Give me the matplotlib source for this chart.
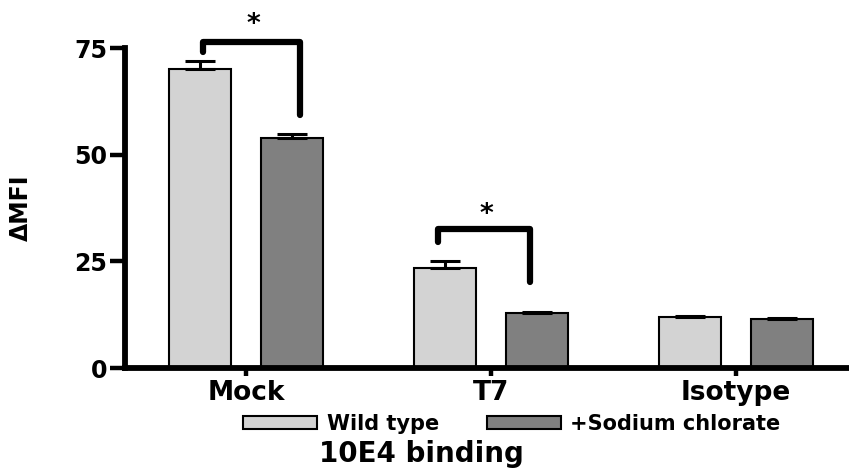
import numpy as np
import matplotlib
matplotlib.use('Agg')
from matplotlib import pyplot as plt
from matplotlib.patches import Patch

# Datos
groups = ['Mock', 'T7', 'Isotype']
series = ['Wild type', '+Sodium chlorate']
wild_type = [70.0, 23.5, 11.9]
wild_type_err = [1.9, 1.6, 0.2]
chlorate = [53.9, 12.8, 11.6]
chlorate_err = [0.9, 0.4, 0.2]

# Corchetes de significancia: (x izq, x der, altura, pata izq, pata der, x asterisco, y asterisco)
brackets = [(-0.176, 0.220, 76.3, 74.0, 59.3, 0.029, 80.3),
            (0.784, 1.159, 32.6, 29.5, 20.1, 0.980, 35.8)]

plt.rcParams['font.family'] = ['DejaVu Sans']
plt.rcParams['font.weight'] = 'bold'

W, H = 849, 474
fig = plt.figure(figsize=(W / 100, H / 100), dpi=100)
ax = fig.add_axes([125 / W, (H - 368) / H, (W - 125) / W, 320 / H])

x = np.arange(len(groups))
width = 0.253
off = 0.188
light = '#d3d3d3'
dark = '#808080'

ax.bar(x - off, wild_type, width, color=light, edgecolor='black', linewidth=1.5,
       yerr=[np.zeros(3), wild_type_err], capsize=11,
       error_kw=dict(elinewidth=2.2, capthick=2.2, ecolor='black'), zorder=2)
ax.bar(x + off, chlorate, width, color=dark, edgecolor='black', linewidth=1.5,
       yerr=[np.zeros(3), chlorate_err], capsize=11,
       error_kw=dict(elinewidth=2.2, capthick=2.2, ecolor='black'), zorder=2)

# Se dibujan los corchetes con asterisco
for xl, xr, top, yl, yr, sx, sy in brackets:
    ax.plot([xl, xl, xr, xr], [yl, top, top, yr], color='black', lw=4.5,
            solid_capstyle='round', solid_joinstyle='round', clip_on=False, zorder=3)
    ax.text(sx, sy, '*', ha='center', va='center',
            fontsize=19, fontweight='bold', clip_on=False)

ax.set_xlim(-0.494, 2.461)
ax.set_ylim(0, 75)
ax.set_yticks([0, 25, 50, 75])
ax.set_xticks(x)
ax.set_xticklabels(groups, fontsize=19, fontweight='bold')
ax.tick_params(axis='y', length=11, width=3.2, labelsize=17, pad=2)
ax.tick_params(axis='x', length=6, width=3.2, pad=3)

for s in ['top', 'right']:
    ax.spines[s].set_visible(False)
for s in ['left', 'bottom']:
    ax.spines[s].set_linewidth(4.2)

ax.set_ylabel('ΔMFI', fontsize=17, fontweight='bold')
ax.yaxis.set_label_coords(-92 / (W - 125), 0.5)

handles = [Patch(facecolor=light, edgecolor='black', linewidth=1.5),
           Patch(facecolor=dark, edgecolor='black', linewidth=1.5)]
fig.legend(handles, series, loc='center', bbox_to_anchor=(512 / W, 1 - 424 / H),
           ncol=2, frameon=False, handlelength=3.55, handleheight=0.55,
           columnspacing=2.3, handletextpad=0.45, prop=dict(size=15, weight='bold'))

fig.text(421 / W, 1 - 454 / H, '10E4 binding', ha='center', va='center',
         fontsize=20, fontweight='bold')

fig.savefig('out.png', dpi=100)
